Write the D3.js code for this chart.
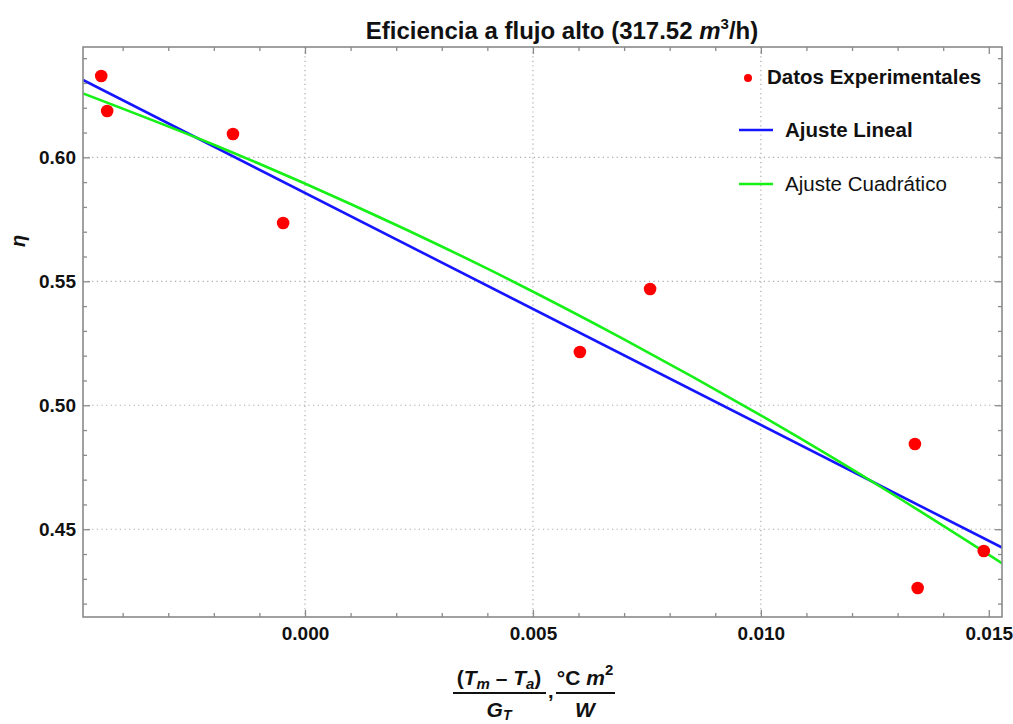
<!DOCTYPE html>
<html>
<head>
<meta charset="utf-8">
<script src="https://cdn.jsdelivr.net/npm/d3@7"></script>
<style>
  body { margin: 0; background: #fff; }
  text { font-family: "Liberation Sans", Arial, sans-serif; fill: #111; }
</style>
</head>
<body>
<div id="chart"></div>
<script>
// data
const expX = [-0.00447, -0.00434, -0.00158, -0.00048, 0.00603, 0.00757, 0.01338, 0.01344, 0.01489];
const expY = [0.6328, 0.6187, 0.6094, 0.5735, 0.5215, 0.5469, 0.4844, 0.4263, 0.4412];

// fitted lines
const linX = [-0.00487, 0.01529];
const linY = [0.6312, 0.4426];
const quadX = [-0.00487, -0.002, 0.001, 0.004, 0.007, 0.010, 0.013, 0.01529];
const quadY = [0.6258, 0.6051, 0.5812, 0.5551, 0.5266, 0.4959, 0.4629, 0.4363];

const xMajor = [0.000, 0.005, 0.010, 0.015];
const yMajor = [0.45, 0.50, 0.55, 0.60];
const xGrid = [0.000, 0.005, 0.010];
const yGrid = [0.45, 0.50, 0.55, 0.60];

const legendLabels = ["Datos Experimentales", "Ajuste Lineal", "Ajuste Cuadrático"];

// layout
const WIDTH = 1013, HEIGHT = 724;
const MARGINS = {left: 83, right: 11, top: 47, bottom: 107};
const VIS_W = WIDTH - MARGINS.left - MARGINS.right;
const VIS_H = HEIGHT - MARGINS.top - MARGINS.bottom;

const FRAME_COLOR = "#8a8a8a";

const xScale = d3.scaleLinear().domain([-0.00487, 0.01529]).range([0, VIS_W]);
const yScale = d3.scaleLinear().domain([0.4146, 0.6445]).range([VIS_H, 0]);

const svg = d3.select("#chart").append("svg")
    .attr("width", WIDTH)
    .attr("height", HEIGHT);

const plot = svg.append("g")
    .attr("transform", "translate(" + MARGINS.left + "," + MARGINS.top + ")");

// grid lines
plot.selectAll(".gx").data(xGrid).enter().append("line")
    .attr("x1", d => xScale(d)).attr("x2", d => xScale(d))
    .attr("y1", 0).attr("y2", VIS_H)
    .attr("stroke", "#aaa").attr("stroke-width", 1.2)
    .attr("stroke-dasharray", "1.2,3.4");
plot.selectAll(".gy").data(yGrid).enter().append("line")
    .attr("y1", d => yScale(d)).attr("y2", d => yScale(d))
    .attr("x1", 0).attr("x2", VIS_W)
    .attr("stroke", "#aaa").attr("stroke-width", 1.2)
    .attr("stroke-dasharray", "1.2,3.4");

// clip for curves
svg.append("clipPath").attr("id", "clip")
  .append("rect").attr("width", VIS_W).attr("height", VIS_H);

const fits = plot.append("g").attr("clip-path", "url(#clip)");

fits.append("path")
    .datum(d3.zip(linX, linY))
    .attr("d", d3.line().x(d => xScale(d[0])).y(d => yScale(d[1])))
    .attr("fill", "none").attr("stroke", "#1515ff").attr("stroke-width", 2.6);

fits.append("path")
    .datum(d3.zip(quadX, quadY))
    .attr("d", d3.line().curve(d3.curveMonotoneX).x(d => xScale(d[0])).y(d => yScale(d[1])))
    .attr("fill", "none").attr("stroke", "#16f016").attr("stroke-width", 2.6);

// points
plot.selectAll(".pt").data(d3.zip(expX, expY)).enter().append("circle")
    .attr("cx", d => xScale(d[0]))
    .attr("cy", d => yScale(d[1]))
    .attr("r", 6.3)
    .attr("fill", "#ff0000");

// frame ticks (all four sides, inward)
const xMinor = d3.range(-4, 16).map(i => i / 1000);
const yMinor = d3.range(42, 65).map(i => i / 100);

function addTicks(axis, scale, values, size) {
  const g = plot.append("g")
      .attr("transform", axis === "bottom" ? "translate(0," + VIS_H + ")" :
                         axis === "right" ? "translate(" + VIS_W + ",0)" : null);
  const gen = axis === "bottom" ? d3.axisBottom(scale) :
              axis === "top" ? d3.axisTop(scale) :
              axis === "left" ? d3.axisLeft(scale) : d3.axisRight(scale);
  g.call(gen.tickValues(values).tickSize(-size).tickFormat(""));
  g.select(".domain").remove();
  g.selectAll("line").attr("stroke", FRAME_COLOR).attr("stroke-width", 1.3);
  return g;
}
["bottom", "top"].forEach(a => {
  addTicks(a, xScale, xMinor.filter(v => !xMajor.some(m => Math.abs(m - v) < 1e-9)), 4);
  addTicks(a, xScale, xMajor, 7);
});
["left", "right"].forEach(a => {
  addTicks(a, yScale, yMinor.filter(v => !yMajor.some(m => Math.abs(m - v) < 1e-9)), 4);
  addTicks(a, yScale, yMajor, 7);
});

// frame
plot.append("rect")
    .attr("width", VIS_W).attr("height", VIS_H)
    .attr("fill", "none").attr("stroke", FRAME_COLOR).attr("stroke-width", 1.6);

// tick labels
const xLab = plot.append("g")
    .attr("transform", "translate(0," + VIS_H + ")")
    .call(d3.axisBottom(xScale).tickValues(xMajor).tickSize(0).tickPadding(10).tickFormat(d3.format(".3f")));
xLab.select(".domain").remove();
xLab.selectAll("text").attr("font-size", "19px").attr("font-weight", "bold")
    .attr("font-family", "Liberation Sans, Arial, sans-serif").attr("fill", "#111");

const yLab = plot.append("g")
    .call(d3.axisLeft(yScale).tickValues(yMajor).tickSize(0).tickPadding(7).tickFormat(d3.format(".2f")));
yLab.select(".domain").remove();
yLab.selectAll("text").attr("font-size", "19px").attr("font-weight", "bold")
    .attr("font-family", "Liberation Sans, Arial, sans-serif").attr("fill", "#111");

// title
const title = svg.append("text")
    .attr("x", 562)
    .attr("y", 39)
    .attr("text-anchor", "middle")
    .attr("font-size", "24px").attr("font-weight", "bold");
title.append("tspan").text("Eficiencia a flujo alto (317.52 ");
title.append("tspan").attr("font-style", "italic").text("m");
title.append("tspan").attr("font-size", "15px").attr("dy", -10).text("3");
title.append("tspan").attr("dy", 10).text("/h)");

// y label
svg.append("text")
    .attr("transform", "translate(25,241) rotate(-90)")
    .attr("text-anchor", "middle")
    .attr("font-size", "20px").attr("font-weight", "bold").attr("font-style", "italic")
    .text("η");

// x label: fractions
const xl = svg.append("g").attr("font-weight", "bold");
const num1 = xl.append("text").attr("x", 499).attr("y", 685).attr("text-anchor", "middle").attr("font-size", "21px");
num1.append("tspan").text("(");
num1.append("tspan").attr("font-style", "italic").text("T");
num1.append("tspan").attr("font-style", "italic").attr("font-size", "15px").attr("dy", 4).text("m");
num1.append("tspan").attr("dy", -4).text(" – ");
num1.append("tspan").attr("font-style", "italic").text("T");
num1.append("tspan").attr("font-style", "italic").attr("font-size", "15px").attr("dy", 4).text("a");
num1.append("tspan").attr("dy", -4).text(")");
xl.append("line").attr("x1", 453).attr("x2", 546).attr("y1", 693).attr("y2", 693)
    .attr("stroke", "#111").attr("stroke-width", 2);
const den1 = xl.append("text").attr("x", 499).attr("y", 717).attr("text-anchor", "middle").attr("font-size", "21px");
den1.append("tspan").attr("font-style", "italic").text("G");
den1.append("tspan").attr("font-style", "italic").attr("font-size", "14px").attr("dy", 3).text("T");
xl.append("text").attr("x", 548).attr("y", 698).attr("font-size", "20px").text(",");

const num2 = xl.append("text").attr("x", 585).attr("y", 685).attr("text-anchor", "middle").attr("font-size", "21px");
num2.append("tspan").text("°C ");
num2.append("tspan").attr("font-style", "italic").text("m");
num2.append("tspan").attr("font-size", "15px").attr("dy", -10).text("2");
xl.append("line").attr("x1", 556).attr("x2", 615).attr("y1", 693).attr("y2", 693)
    .attr("stroke", "#111").attr("stroke-width", 2);
xl.append("text").attr("x", 585).attr("y", 717).attr("text-anchor", "middle").attr("font-size", "21px")
    .attr("font-style", "italic").text("W");

// legend
const leg = svg.append("g");
leg.append("circle").attr("cx", 748).attr("cy", 78).attr("r", 4).attr("fill", "#ff0000");
leg.append("text").attr("x", 767).attr("y", 84).attr("font-size", "20.5px").attr("font-weight", "bold").text(legendLabels[0]);
leg.append("line").attr("x1", 739).attr("x2", 773).attr("y1", 130).attr("y2", 130)
    .attr("stroke", "#1515ff").attr("stroke-width", 2.6);
leg.append("text").attr("x", 785).attr("y", 137).attr("font-size", "20.5px").attr("font-weight", "bold").text(legendLabels[1]);
leg.append("line").attr("x1", 739).attr("x2", 773).attr("y1", 184).attr("y2", 184)
    .attr("stroke", "#16f016").attr("stroke-width", 2.6);
leg.append("text").attr("x", 785).attr("y", 191).attr("font-size", "20.5px").text(legendLabels[2]);
</script>
</body>
</html>
